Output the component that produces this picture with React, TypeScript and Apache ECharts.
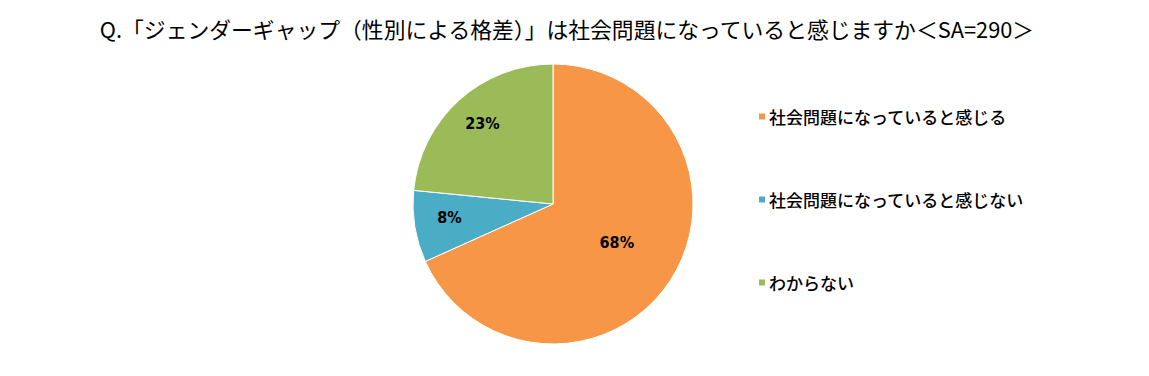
import React, { useEffect, useRef } from "react";
import * as echarts from "echarts";

const TITLE = "Q.「ジェンダーギャップ（性別による格差）」は社会問題になっていると感じますか＜SA=290＞";
const categories = ["社会問題になっていると感じる", "社会問題になっていると感じない", "わからない"];
const counts = [198, 24, 68];
const colors = ["#F79646", "#4BACC6", "#9BBB59"];

export default function App() {
  const ref = useRef<HTMLDivElement>(null);
  useEffect(() => {
    if (!ref.current) return;
    const chart = echarts.init(ref.current, null, { renderer: "svg" });
    const total = counts.reduce((a, b) => a + b, 0);
    const cum: number[] = [];
    let acc = 0;
    counts.forEach((v) => {
      cum.push(acc + v / 2);
      acc += v;
    });
    chart.setOption({
      animation: false,
      backgroundColor: "#fff",
      title: {
        text: TITLE,
        left: 562,
        top: 13,
        textAlign: "center",
        textStyle: {
          fontFamily: "'Noto Sans CJK JP', sans-serif",
          fontSize: 21.8,
          fontWeight: "normal",
          color: "#000",
        },
      },
      legend: {
        orient: "vertical",
        left: 752,
        top: 103,
        itemWidth: 8,
        itemHeight: 8,
        itemGap: 66,
        icon: "rect",
        data: categories,
        textStyle: {
          fontFamily: "'Noto Sans CJK JP', sans-serif",
          fontSize: 17,
          fontWeight: 500,
          color: "#000",
          padding: [0, 0, 0, -2],
        },
      },
      series: [
        {
          type: "pie",
          center: [553, 204],
          radius: [0, 140],
          startAngle: 90,
          clockwise: true,
          itemStyle: { borderColor: "#fff", borderWidth: 1 },
          label: {
            show: true,
            position: "inside",
            fontFamily: "'Liberation Sans Narrow', 'DejaVu Sans Condensed', sans-serif",
            fontWeight: "bold",
            fontSize: 16,
            color: "#000",
            formatter: (p: any) => Math.round((p.value / total) * 100) + "%",
          },
          labelLayout: (p: any) => {
            const i = p.dataIndex;
            const share = counts[i] / total;
            const b = (cum[i] / total) * Math.PI * 2;
            const extra = share < 0.3 ? 32 : 3;
            return { dx: extra * Math.sin(b), dy: -extra * Math.cos(b) - 3 };
          },
          data: categories.map((name, i) => ({
            name,
            value: counts[i],
            itemStyle: { color: colors[i] },
          })),
        },
      ],
    });
    return () => chart.dispose();
  }, []);
  return (
    <div
      ref={ref}
      style={{ position: "absolute", left: 0, top: 0, width: 1149, height: 376 }}
    />
  );
}
